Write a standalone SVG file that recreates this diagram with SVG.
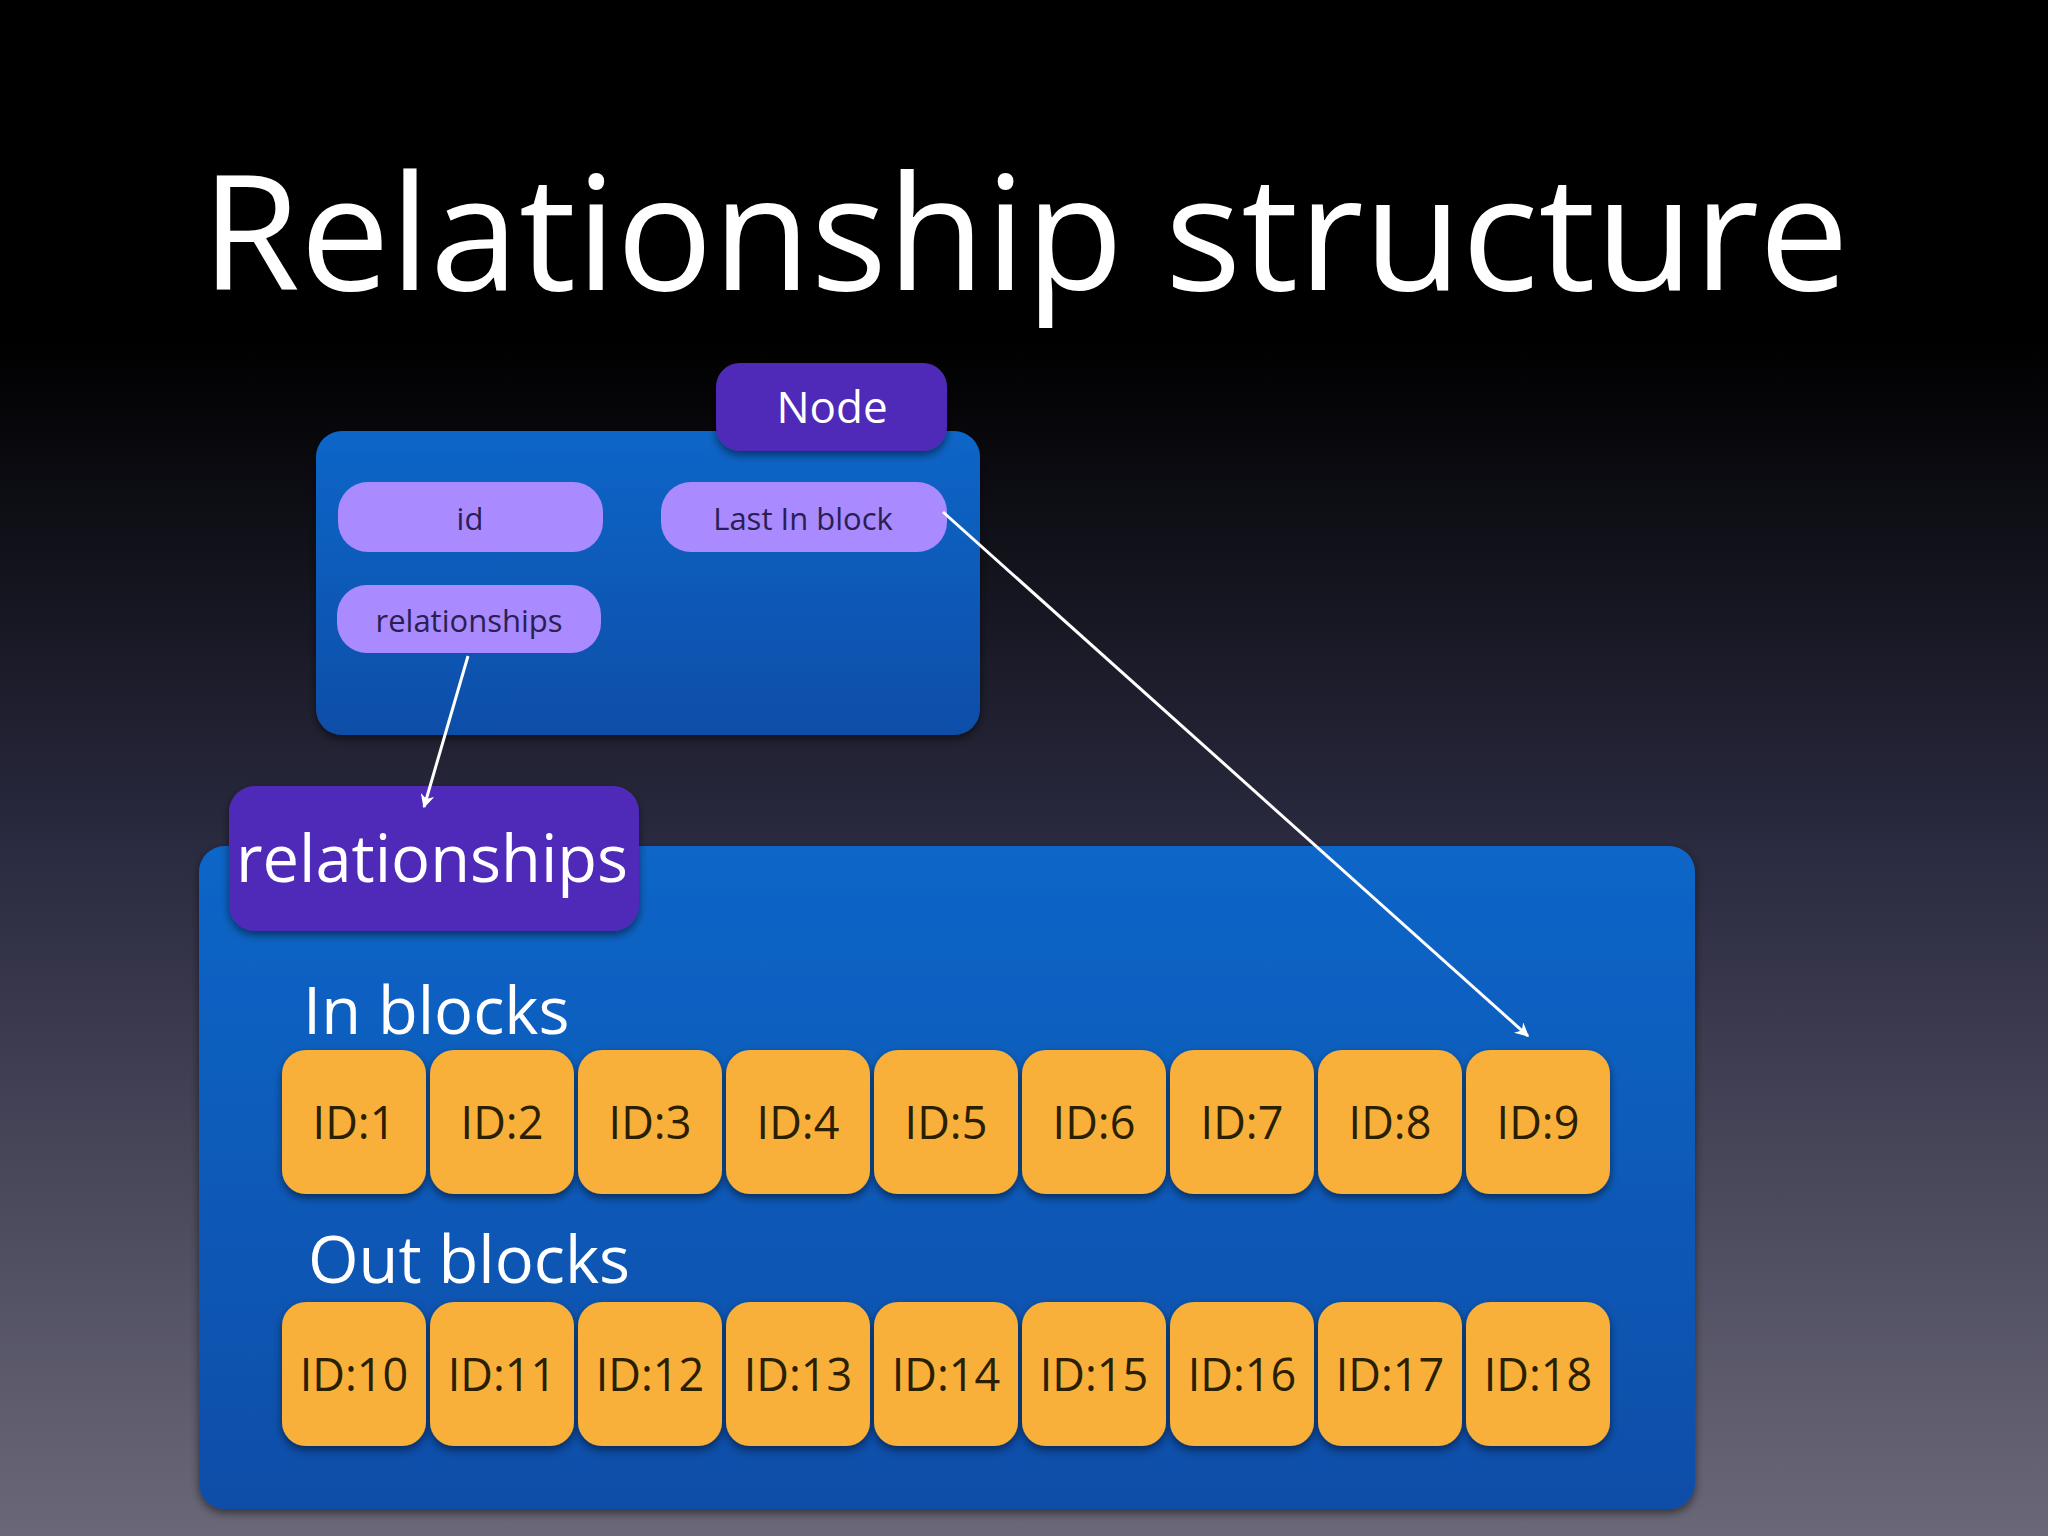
<svg xmlns="http://www.w3.org/2000/svg" width="2048" height="1536" viewBox="0 0 2048 1536">
<defs>
<linearGradient id="bg" x1="0" y1="0" x2="0" y2="1"><stop offset="0" stop-color="#000"/><stop offset="0.22" stop-color="#000"/><stop offset="0.55" stop-color="#2a2a40"/><stop offset="1" stop-color="#6a6878"/></linearGradient>
<linearGradient id="blue" x1="0" y1="0" x2="0" y2="1"><stop offset="0" stop-color="#0a66c8"/><stop offset="1" stop-color="#0b4ea8"/></linearGradient>
<marker id="ah" viewBox="0 0 10 10" refX="9" refY="5" markerWidth="14" markerHeight="14" markerUnits="userSpaceOnUse" orient="auto"><path d="M0,0 L10,5 L0,10 L3,5 z" fill="#fff"/></marker>
<filter id="sh" x="-10%" y="-10%" width="120%" height="130%"><feDropShadow dx="0" dy="4" stdDeviation="4" flood-opacity="0.5"/></filter>
</defs>
<style>
text{font-family:"Open Sans","Liberation Sans",sans-serif;}
.w{fill:#fff}
.pill{fill:#a98bff}
.pt{font-size:31px;fill:#2a2050;text-anchor:middle}
.tab{fill:#4f2bb8}
.blk{fill:#f8b03a}
.bt{font-size:45px;fill:#2a2000;text-anchor:middle}
</style>
<rect width="2048" height="1536" fill="url(#bg)"/>
<text x="1025" y="290" class="w" font-size="160" text-anchor="middle">Relationship structure</text>
<g id="node">
<rect x="316" y="431" width="664" height="304" rx="26" fill="url(#blue)" filter="url(#sh)"/>
<rect x="716" y="363" width="231" height="88" rx="24" class="tab" filter="url(#sh)"/>
<text x="832" y="423" class="w" font-size="44" text-anchor="middle">Node</text>
</g>
<g id="id"><rect x="338" y="482" width="265" height="70" rx="30" class="pill"/><text x="470" y="530" class="pt">id</text></g>
<g id="lastin"><rect x="661" y="482" width="286" height="70" rx="30" class="pill"/><text x="803" y="530" class="pt">Last In block</text></g>
<g id="rels"><rect x="337" y="585" width="264" height="68" rx="30" class="pill"/><text x="469" y="632" class="pt">relationships</text></g>
<g id="relationships">
<rect x="199" y="846" width="1496" height="663" rx="26" fill="url(#blue)" filter="url(#sh)"/>
<rect x="229" y="786" width="410" height="145" rx="26" class="tab" filter="url(#sh)"/>
<text x="432" y="882" class="w" font-size="65" text-anchor="middle">relationships</text>
<text x="303" y="1034" class="w" font-size="65">In blocks</text>
<text x="308" y="1283" class="w" font-size="65">Out blocks</text>
</g>
<g id="blocks">
<g filter="url(#sh)">
<rect x="282" y="1050" width="144" height="144" rx="24" class="blk"/><rect x="430" y="1050" width="144" height="144" rx="24" class="blk"/><rect x="578" y="1050" width="144" height="144" rx="24" class="blk"/><rect x="726" y="1050" width="144" height="144" rx="24" class="blk"/><rect x="874" y="1050" width="144" height="144" rx="24" class="blk"/><rect x="1022" y="1050" width="144" height="144" rx="24" class="blk"/><rect x="1170" y="1050" width="144" height="144" rx="24" class="blk"/><rect x="1318" y="1050" width="144" height="144" rx="24" class="blk"/><rect x="1466" y="1050" width="144" height="144" rx="24" class="blk"/>
<rect x="282" y="1302" width="144" height="144" rx="24" class="blk"/><rect x="430" y="1302" width="144" height="144" rx="24" class="blk"/><rect x="578" y="1302" width="144" height="144" rx="24" class="blk"/><rect x="726" y="1302" width="144" height="144" rx="24" class="blk"/><rect x="874" y="1302" width="144" height="144" rx="24" class="blk"/><rect x="1022" y="1302" width="144" height="144" rx="24" class="blk"/><rect x="1170" y="1302" width="144" height="144" rx="24" class="blk"/><rect x="1318" y="1302" width="144" height="144" rx="24" class="blk"/><rect x="1466" y="1302" width="144" height="144" rx="24" class="blk"/>
</g>
<text x="354" y="1139" class="bt">ID:1</text><text x="502" y="1139" class="bt">ID:2</text><text x="650" y="1139" class="bt">ID:3</text><text x="798" y="1139" class="bt">ID:4</text><text x="946" y="1139" class="bt">ID:5</text><text x="1094" y="1139" class="bt">ID:6</text><text x="1242" y="1139" class="bt">ID:7</text><text x="1390" y="1139" class="bt">ID:8</text><text x="1538" y="1139" class="bt">ID:9</text>
<text x="354" y="1391" class="bt">ID:10</text><text x="502" y="1391" class="bt">ID:11</text><text x="650" y="1391" class="bt">ID:12</text><text x="798" y="1391" class="bt">ID:13</text><text x="946" y="1391" class="bt">ID:14</text><text x="1094" y="1391" class="bt">ID:15</text><text x="1242" y="1391" class="bt">ID:16</text><text x="1390" y="1391" class="bt">ID:17</text><text x="1538" y="1391" class="bt">ID:18</text>
</g>
<g id="connectors" stroke="#fff" stroke-width="3" fill="none" marker-end="url(#ah)">
<line x1="468" y1="656" x2="424" y2="807"/>
<line x1="943" y1="512" x2="1528" y2="1036"/>
</g>
</svg>
